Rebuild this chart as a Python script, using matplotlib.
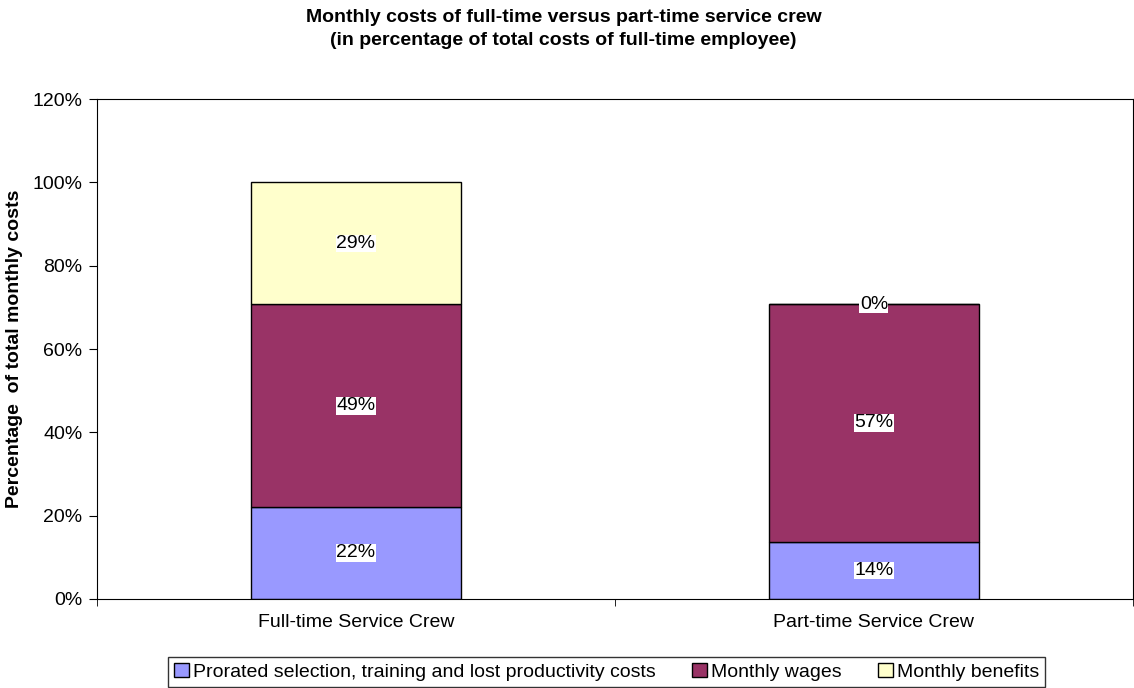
import matplotlib.pyplot as plt
import numpy as np

plt.rcParams['font.family'] = ['Liberation Sans', 'DejaVu Sans']

# Données (en % du coût total d'un employé à temps plein)
categories = ["Full-time Service Crew", "Part-time Service Crew"]
series = ["Prorated selection, training and lost productivity costs",
          "Monthly wages", "Monthly benefits"]
selection = [22.1, 13.7]
wages = [48.6, 57.1]
benefits = [29.3, 0.0]
colors = ["#9999FF", "#993366", "#FFFFCC"]

fig = plt.figure(figsize=(11.34, 6.88), dpi=100)
ax = fig.add_axes([0.0855, 0.1294, 0.9135, 0.7266])

x = np.arange(len(categories))
bottom = np.zeros(len(categories))
for vals, lab, col in zip([selection, wages, benefits], series, colors):
    vals = np.array(vals)
    ax.bar(x, vals, 0.405, bottom=bottom, color=col, edgecolor="black",
           linewidth=1, label=lab)
    for xi, b, v in zip(x, bottom, vals):
        ax.text(xi, b + v / 2, f"{v:.0f}%", ha="center", va="center",
                fontsize=14,
                bbox=dict(facecolor="white", edgecolor="none", pad=0.3))
    bottom = bottom + vals

ax.set_xlim(-0.5, 1.5)
ax.set_ylim(0, 120)
ax.set_yticks(np.arange(0, 121, 20))
ax.set_yticklabels([f"{v}%" for v in range(0, 121, 20)], fontsize=14)
ax.set_xticks(x)
ax.set_xticklabels(categories, fontsize=14)
ax.tick_params(axis="x", which="major", length=0, pad=11)
ax.set_xticks([-0.5, 0.5, 1.5], minor=True)
ax.tick_params(axis="x", which="minor", length=5, direction="out")
ax.tick_params(axis="y", length=6, direction="out", pad=4.5)
ax.set_ylabel("Percentage  of total monthly costs", fontsize=14,
              fontweight="bold")
ax.yaxis.label.set_va("center")
ax.yaxis.set_label_coords(-0.080, 0.5)

fig.text(0.497, 0.958, "Monthly costs of full-time versus part-time service crew\n"
         "(in percentage of total costs of full-time employee)",
         ha="center", va="center", fontsize=14, fontweight="bold",
         linespacing=1.45)

leg = fig.legend(loc="center", bbox_to_anchor=(0.535, 0.0235), ncol=3,
                 fontsize=14, frameon=True, fancybox=False,
                 handlelength=0.75, handleheight=0.75, handletextpad=0.2,
                 columnspacing=1.9, borderpad=0.3)
leg.get_frame().set_edgecolor("black")
leg.get_frame().set_linewidth(1)

plt.savefig("out.png", dpi=100)
